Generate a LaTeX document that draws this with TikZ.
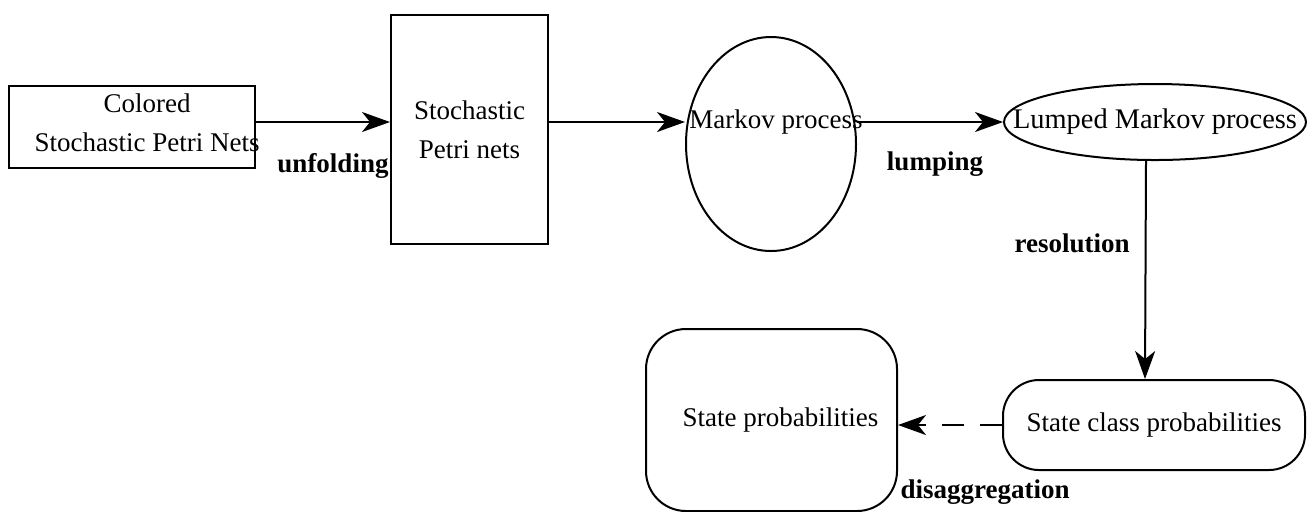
\documentclass[tikz,border=0pt]{standalone}
\usepackage{fontspec}
\setmainfont{Liberation Serif}
\usetikzlibrary{arrows.meta, shapes.geometric}

\begin{document}
\begin{tikzpicture}[x=0.5pt, y=-0.5pt,
  font=\fontsize{13.5}{19.5}\selectfont, line width=1pt,
  boxnode/.style={draw, rectangle, inner sep=0pt, align=center},
  ovalnode/.style={draw, ellipse, inner sep=0pt},
  roundnode/.style={draw, rectangle, rounded corners=18pt, inner sep=0pt, align=center},
  txt/.style={inner sep=0pt, align=center},
  lbl/.style={font=\fontsize{13.5}{16}\selectfont\bfseries, inner sep=0pt},
  arr/.style={-{Stealth[length=14pt, width=10pt, inset=4pt]}}]
\useasboundingbox (0,0) rectangle (1310,511);

% nets
\node[boxnode, minimum width=123pt, minimum height=41pt] (csp) at (132,127) {};
\node[txt] (csptext) at (147,123) {Colored\\Stochastic Petri Nets};
\node[boxnode, minimum width=78.5pt, minimum height=114.5pt] (spn) at (469.5,129.5) {Stochastic\\Petri nets};

% processes
\node[ovalnode, minimum width=85pt, minimum height=107pt] (mp) at (771,144) {};
\node[txt] (mptext) at (776,122) {Markov process};
\node[ovalnode, minimum width=151pt, minimum height=38pt] (lmp) at (1155,122) {};
\node[txt, font=\fontsize{14.2}{17}\selectfont] (lmptext) at (1155,122) {Lumped Markov process};

% probabilities
\node[roundnode, minimum width=151pt, minimum height=45pt] (scp) at (1154,425) {State class probabilities};
\node[roundnode, rounded corners=20pt, minimum width=125.5pt, minimum height=91pt] (sp) at (771.5,420) {\hspace{9pt}State probabilities};

% arrows
\draw[arr] (csp.east |- mptext) -- (spn.west |- mptext);
\draw[arr] (spn.east |- mptext) -- (mp.west |- mptext);
\draw[arr] (mp.east |- mptext) -- (lmp.west);
\draw[arr] ([xshift=-4.5pt]lmp.south) -- ([xshift=-4.5pt]scp.north);
\draw[arr, dash pattern=on 11pt off 8pt] (scp.west) -- (sp.east |- scp.west);

% labels
\node[lbl] (unf) at (333,166) {unfolding};
\node[lbl] (lump) at (935,164) {lumping};
\node[lbl] (res) at (1072,243) {resolution};
\node[lbl] (disagg) at (985,492) {disaggregation};
\end{tikzpicture}
\end{document}
